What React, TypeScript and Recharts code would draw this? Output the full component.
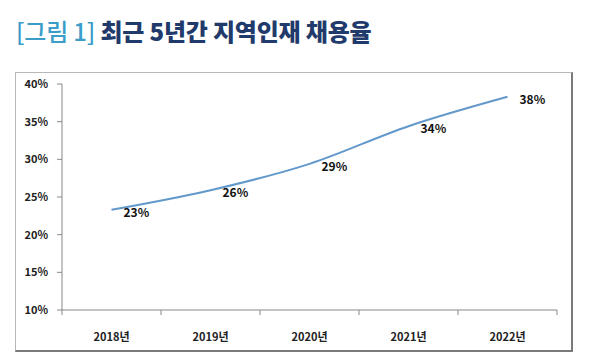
import { LineChart, Line, XAxis, YAxis, LabelList } from "recharts"

// 최근 5년간 지역인재 채용율 (%)
const years = ["2018년", "2019년", "2020년", "2021년", "2022년"]
const rates = [23.3, 25.9, 29.4, 34.4, 38.3]
const rateLabels = ["23%", "26%", "29%", "34%", "38%"]
const yTicks = [10, 15, 20, 25, 30, 35, 40]

const data = years.map((year, i) => ({
  pos: i + 0.5,
  year,
  rate: rates[i],
  label: rateLabels[i],
}))

// boundaries between categories get a tick mark, centres get the year label
const xTicks: number[] = []
for (let i = 0; i <= years.length; i++) {
  xTicks.push(i)
  if (i < years.length) xTicks.push(i + 0.5)
}

const FONT = "'Noto Sans CJK KR', 'Noto Sans', sans-serif"

function XTick(props: any) {
  const { x, y, payload } = props
  const v = payload.value as number
  if (Number.isInteger(v)) {
    return <line x1={x} x2={x} y1={y} y2={y + 5} stroke="#888" strokeWidth={1} />
  }
  return (
    <text
      x={x}
      y={y + 31}
      textAnchor="middle"
      fontFamily={FONT}
      fontWeight={700}
      fontSize={11}
      fill="#222"
    >
      {years[Math.floor(v)]}
    </text>
  )
}

function RateLabel(props: any) {
  const { x, y, value } = props
  return (
    <text
      x={x + 12}
      y={y + 7}
      textAnchor="start"
      fontFamily={FONT}
      fontWeight={700}
      fontSize={12}
      fill="#111"
    >
      {value}
    </text>
  )
}

export default function App() {
  return (
    <div
      style={{
        position: "absolute",
        left: 0,
        top: 0,
        width: 592,
        height: 361,
        background: "#fff",
        overflow: "hidden",
      }}
    >
      <div
        style={{
          position: "absolute",
          left: 16,
          top: 19,
          fontFamily: FONT,
          fontWeight: 800,
          fontSize: 24,
          lineHeight: "24px",
          whiteSpace: "nowrap",
          letterSpacing: -0.2,
        }}
      >
        <span style={{ color: "#3b9dc8", fontWeight: 500 }}>[그림 1]</span>
        <span style={{ color: "#1f3a6b" }}> 최근 5년간 지역인재 채용율</span>
      </div>
      <div
        style={{
          position: "absolute",
          left: 15,
          top: 72,
          width: 555,
          height: 277,
          borderTop: "1px solid #b8b8b8",
          borderLeft: "1px solid #b8b8b8",
          borderRight: "2px solid #7a7a7a",
          borderBottom: "2px solid #7a7a7a",
        }}
      />
      <div style={{ position: "absolute", left: 0, top: 0 }}>
        <LineChart
          width={592}
          height={361}
          data={data}
          margin={{ top: 84, right: 35, bottom: 21, left: 22 }}
        >
          <XAxis
            dataKey="pos"
            type="number"
            domain={[0, years.length]}
            ticks={xTicks}
            interval={0}
            tickSize={0}
            tickMargin={0}
            tickLine={false}
            tick={<XTick />}
            height={30}
            axisLine={{ stroke: "#888" }}
          />
          <YAxis
            domain={[10, 40]}
            ticks={yTicks}
            interval={0}
            width={40}
            tickSize={5}
            tickMargin={9}
            tickFormatter={(v: number) => `${v}%`}
            tick={{ fontFamily: FONT, fontWeight: 700, fontSize: 11, fill: "#222" }}
            axisLine={{ stroke: "#888" }}
            tickLine={{ stroke: "#888" }}
          />
          <Line
            type="monotone"
            dataKey="rate"
            stroke="#6398cb"
            strokeWidth={2}
            dot={false}
            activeDot={false}
            isAnimationActive={false}
          >
            <LabelList dataKey="label" content={<RateLabel />} />
          </Line>
        </LineChart>
      </div>
    </div>
  )
}
